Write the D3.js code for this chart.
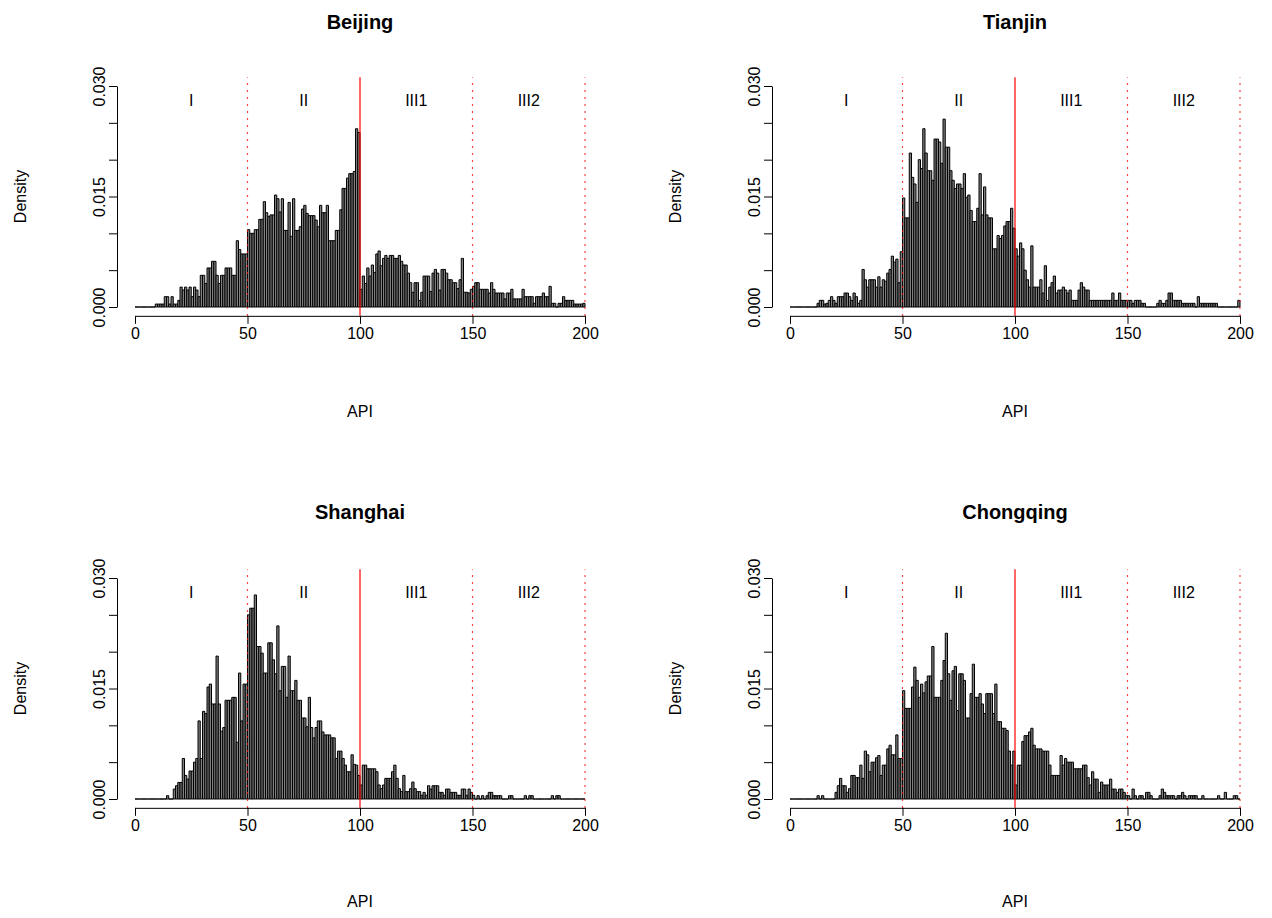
<!DOCTYPE html>
<html>
<head>
<meta charset="utf-8">
<script src="https://cdn.jsdelivr.net/npm/d3@7"></script>
<style>
  body { margin: 0; background: #fff; }
  svg text { font-family: "Liberation Sans", Arial, Helvetica, sans-serif; }
</style>
</head>
<body>
<div id="chart"></div>
<script>
// Histogram heights, one per API bin of width 1 (0-1, 1-2, ... 199-200).
// Values are density x 1000.
const beijing = [
  0,0,0,0,0,0,0,0,0,0.4, 0.4,0.4,0.4,1.4,1.4,0.4,1.4,0.4,0.4,0.9,
  2.7,2.3,2.7,2.3,2.7,1.4,2.7,2.3,1.4,4.3, 4.3,3.2,5.3,5.3,6.2,6.2,4.3,3.2,4.3,4.3,
  5.3,5.3,5.3,4.3,4.3,9.0,7.8,7.2,7.2,7.2, 10.5,10.0,10.0,10.5,10.5,11.9,11.9,14.3,12.8,12.3,
  12.5,12.5,15.2,14.7,12.9,14.7,10.4,10.4,14.2,9.6, 14.7,10.4,10.4,10.9,13.3,13.8,12.7,12.4,12.4,12.4,
  11.8,10.9,13.8,12.8,12.8,13.8,9.0,9.0,9.0,10.4, 10.4,13.2,16.1,16.1,17.5,18.1,18.1,18.4,24.2,23.7,
  2.4,4.2,3.2,5.3,4.2,5.7,4.7,7.2,7.6,5.6, 6.6,7.0,6.6,7.0,7.0,6.6,6.6,7.0,6.2,5.7,
  5.7,4.6,3.3,2.0,3.3,3.3,0.9,2.0,4.2,4.2, 4.2,2.1,4.6,5.1,4.6,2.3,5.1,5.1,4.6,3.7,
  3.7,3.3,3.3,2.5,3.7,6.6,2.0,2.0,1.9,2.4, 2.8,3.3,3.3,2.4,2.4,2.4,2.4,1.9,3.3,2.4,
  1.9,1.9,1.9,1.9,1.1,1.9,1.9,2.4,1.1,1.1, 1.1,1.1,2.4,1.4,1.4,1.4,1.4,0.5,1.4,1.4,
  1.4,1.9,1.4,1.4,2.8,0.5,0.5,0,0.5,0.5, 1.4,0.9,0.9,0.9,0.9,0.4,0.4,0.4,0.4,0.5
];
const tianjin = [
  0,0,0,0,0,0,0,0,0,0, 0,0,0.5,0.9,0.9,0.4,0.5,0.9,1.4,0.9,
  0.5,1.4,1.4,1.4,1.9,1.9,1.4,0.9,1.9,1.4, 0.5,0.9,5.1,3.7,2.7,3.7,3.7,3.7,2.7,4.1,
  2.7,3.7,3.5,4.6,5.1,6.9,6.1,6.5,3.3,7.5, 14.8,12.1,12.1,20.9,17.6,16.7,14.2,20.0,18.8,24.2,
  20.9,18.5,18.5,17.2,22.8,22.8,22.4,19.5,25.5,21.7, 21.7,18.5,17.2,16.1,16.7,16.7,16.1,18.1,14.9,15.2,
  13.1,11.6,11.6,13.4,18.1,12.5,16.3,12.5,12.1,12.1, 7.9,7.9,9.7,9.3,9.7,11.0,11.6,11.6,13.4,10.7,
  7.9,6.9,8.7,7.9,5.0,3.7,2.7,8.3,2.7,2.7, 2.7,3.7,1.9,5.6,0.9,2.7,3.3,4.2,1.9,2.3,
  2.3,2.7,2.3,1.9,2.3,0.9,0.9,0.9,2.3,3.3, 2.7,2.3,2.3,0.9,0.9,0.9,0.9,0.9,0.9,0.9,
  0.9,0.9,0.9,1.9,0.9,0.9,1.9,0.9,0.9,0.9, 0.9,0.9,0.5,0.9,0.9,0.9,0.5,0.5,0,0,
  0,0,0,0.5,0.9,0.5,0.5,0.9,1.9,1.9, 0.9,0.9,0.9,0.9,0.5,0.5,0.5,0.5,0.5,0.5,
  0,1.4,0.5,0.5,0.5,0.5,0.5,0.5,0.5,0.5, 0,0,0,0,0,0,0,0,0,0.9
];
const shanghai = [
  0,0,0,0,0,0,0,0,0,0, 0,0,0,0,0.45,0,0,1.35,1.8,2.25,
  2.25,5.5,3.2,2.7,3.8,3.8,5.0,5.5,10.6,5.5, 11.9,11.6,15.2,15.6,12.9,12.9,19.4,12.9,9.2,9.7,
  13.4,13.4,13.4,13.8,13.8,7.7,17.1,10.6,15.6,15.6, 25.0,25.9,25.9,27.7,20.7,20.7,19.8,17.1,17.1,21.2,
  21.2,18.9,17.0,23.5,14.7,18.0,18.0,13.8,19.4,14.7, 14.7,16.1,13.4,13.4,11.0,11.0,9.8,13.8,9.7,8.3,
  9.7,10.6,10.6,9.1,8.7,8.7,8.7,8.3,8.3,5.5, 6.5,6.5,5.5,4.6,3.7,3.7,6.0,4.7,4.6,3.2,
  1.9,4.6,4.6,4.1,4.1,4.1,4.1,3.7,1.9,1.4, 1.9,2.8,2.8,2.8,3.7,4.6,2.8,1.4,1.0,3.2,
  1.0,1.0,1.4,2.3,1.4,1.0,1.0,0.5,0.9,0.5, 1.8,1.35,1.8,1.8,1.8,0.9,0.9,0.5,1.35,1.35,
  0.9,0.9,0.9,0.5,0.5,1.35,1.35,0.5,1.35,0.9, 0.5,0,0.45,0,0.45,0,0.45,0.9,0.9,0.45,
  0.45,0.45,0.45,0,0,0,0.45,0.45,0,0, 0,0,0,0.45,0,0.45,0.45,0,0,0,
  0,0,0,0,0,0.45,0,0.45,0.45,0, 0,0,0,0,0,0,0,0,0,0
];
const chongqing = [
  0,0,0,0,0,0,0,0,0,0, 0,0,0.45,0,0.45,0,0,0,0,0,
  0.9,1.8,2.8,1.8,1.8,0.9,1.4,3.2,3.2,2.9, 2.9,4.6,2.8,6.5,6.0,3.7,5.0,5.0,5.6,5.9,
  3.2,4.6,4.6,6.8,7.3,6.0,6.0,8.7,5.5,5.5, 14.7,12.3,12.3,12.3,15.2,17.9,16.1,13.8,15.6,14.4,
  15.9,16.7,16.7,20.7,13.8,13.8,13.8,16.1,18.8,22.5, 17.0,13.4,17.4,18.0,12.0,17.0,17.0,16.1,11.0,11.0,
  14.3,18.3,13.8,13.8,14.3,12.9,11.6,14.3,14.3,14.3, 11.6,15.6,10.5,10.5,9.6,9.6,9.3,6.5,4.6,6.5,
  1.9,4.6,4.6,7.8,8.6,8.6,9.1,9.6,7.3,6.8, 6.8,6.8,6.5,6.5,6.5,4.6,3.2,3.2,3.2,3.2,
  5.9,4.6,5.5,5.0,5.0,5.0,4.1,4.1,4.1,4.1, 4.6,4.6,2.9,1.9,3.7,2.7,2.7,0.9,2.3,1.9,
  1.9,1.9,2.7,1.35,1.35,0.9,1.35,1.35,0.9,0.5, 0.45,0,1.35,0.45,0,0.45,0.45,0,0.9,0.9,
  0.45,0,0,0,0.45,1.35,0.9,0.45,0.45,0.45, 0.45,0,0.45,0.45,0.9,0.45,0,0.45,0.45,0.45,
  0.45,0,0,0.45,0,0,0,0,0,0, 0.45,0,0,0.9,0,0,0,0.45,0.45,0
];

const cities = ["Beijing", "Tianjin", "Shanghai", "Chongqing"];
const cityValues = [beijing, tianjin, shanghai, chongqing];
const xTicks = [0, 50, 100, 150, 200];
const yTicks = [0, 0.005, 0.01, 0.015, 0.02, 0.025, 0.03];
const yLabelled = [0, 0.015, 0.03];
const zoneNames = ["I", "II", "III1", "III2"];
const zoneCentres = [25, 75, 125, 175];
const solidCuts = [100];
const dottedCuts = [50, 150, 200];

// Panel placement (pixels)
const width = 1272, height = 918;
const panelBox = [
  {left: 135, right: 585,  zero: 307, top: 86,  title: 22,  xlab: 411, ylab: 20},
  {left: 790, right: 1240, zero: 307, top: 86,  title: 22,  xlab: 411, ylab: 675},
  {left: 135, right: 585,  zero: 799, top: 578, title: 512, xlab: 901, ylab: 20},
  {left: 790, right: 1240, zero: 799, top: 578, title: 512, xlab: 901, ylab: 675}
];

const svg = d3.select("#chart")
  .append("svg")
  .attr("width", width)
  .attr("height", height);

svg.append("rect").attr("width", width).attr("height", height).attr("fill", "#fff");

cities.forEach((city, k) => {
  const box = panelBox[k];
  const values = cityValues[k];
  const g = svg.append("g");

  const x = d3.scaleLinear().domain([0, 200]).range([box.left, box.right]);
  const y = d3.scaleLinear().domain([0, 0.03]).range([box.zero, box.top]);

  // R-style plot region: 4% padding
  const usrLeft = x(-8), usrBottom = y(-0.0012), usrTop = y(0.0312);

  // bars
  g.append("g")
    .selectAll("path")
    .data(values)
    .join("path")
    .attr("d", (v, i) => `M${x(i)},${y(0)}V${y(v / 1000)}H${x(i + 1)}V${y(0)}Z`)
    .attr("fill", "#808080")
    .attr("stroke", "#000")
    .attr("stroke-width", 1);

  // category cut lines
  g.selectAll("line.solid")
    .data(solidCuts)
    .join("line")
    .attr("x1", d => x(d)).attr("x2", d => x(d))
    .attr("y1", usrBottom).attr("y2", usrTop)
    .attr("stroke", "#ff0000")
    .attr("stroke-width", 1.2);

  g.selectAll("line.dotted")
    .data(dottedCuts)
    .join("line")
    .attr("x1", d => x(d)).attr("x2", d => x(d))
    .attr("y1", usrBottom).attr("y2", usrTop)
    .attr("stroke", "#ff0000")
    .attr("stroke-width", 1.2)
    .attr("stroke-dasharray", "1.5,5.5");

  // zone labels
  g.selectAll("text.zone")
    .data(zoneNames)
    .join("text")
    .attr("x", (d, i) => x(zoneCentres[i]))
    .attr("y", y(0.028))
    .attr("dy", "0.35em")
    .attr("text-anchor", "middle")
    .style("font-size", "16px")
    .text(d => d);

  // axes
  const xAxis = g.append("g")
    .attr("transform", `translate(0,${usrBottom})`)
    .call(d3.axisBottom(x).tickValues(xTicks).tickSize(8).tickSizeOuter(0).tickPadding(4));

  const yAxis = g.append("g")
    .attr("transform", `translate(${usrLeft},0)`)
    .call(d3.axisLeft(y).tickValues(yTicks).tickSize(8).tickSizeOuter(0)
      .tickFormat(d => yLabelled.includes(d) ? d3.format(".3f")(d) : ""));

  [xAxis, yAxis].forEach(a => {
    a.attr("font-family", null).attr("font-size", null);
    a.selectAll("path, line").attr("stroke", "#000");
    a.selectAll("text").style("font-size", "16px").attr("fill", "#000");
  });

  yAxis.selectAll("text")
    .attr("transform", "rotate(-90)")
    .attr("x", 0)
    .attr("y", -12)
    .attr("dy", 0)
    .attr("text-anchor", "middle");

  // titles
  g.append("text")
    .attr("x", (box.left + box.right) / 2)
    .attr("y", box.title)
    .attr("dy", "0.35em")
    .attr("text-anchor", "middle")
    .style("font-size", "20px")
    .style("font-weight", "bold")
    .text(city);

  g.append("text")
    .attr("x", (box.left + box.right) / 2)
    .attr("y", box.xlab)
    .attr("dy", "0.35em")
    .attr("text-anchor", "middle")
    .style("font-size", "16px")
    .text("API");

  g.append("text")
    .attr("transform", `translate(${box.ylab},${(box.zero + box.top) / 2}) rotate(-90)`)
    .attr("dy", "0.35em")
    .attr("text-anchor", "middle")
    .style("font-size", "16px")
    .text("Density");
});
</script>
</body>
</html>
